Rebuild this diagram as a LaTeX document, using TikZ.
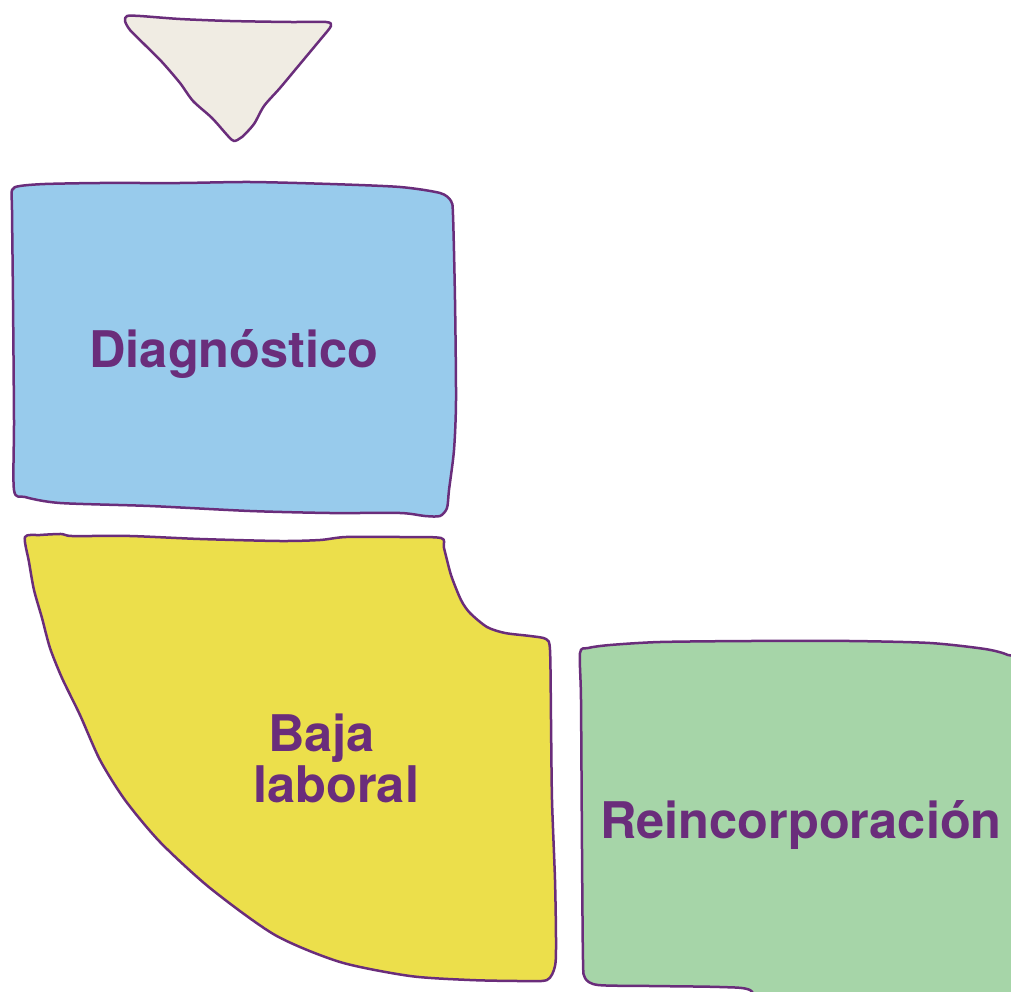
\documentclass[tikz,border=0pt]{standalone}
\usepackage{fontspec}
\setmainfont{TeX Gyre Heros}
\definecolor{ink}{HTML}{6A2D7B}
\definecolor{trifill}{HTML}{F0ECE3}
\definecolor{bluefill}{HTML}{98CBEC}
\definecolor{yellowfill}{HTML}{ECDF4B}
\definecolor{greenfill}{HTML}{A6D5A8}
\begin{document}
\begin{tikzpicture}[x=1pt,y=-1pt,
  outline/.style={draw=ink, line width=2.5pt, line join=round},
  lbl/.style={text=ink, font=\bfseries\fontsize{50.5}{52}\selectfont, inner sep=0pt}]
\useasboundingbox (0,0) rectangle (1011,992);

% triangle
\draw[outline, fill=trifill] plot[smooth cycle, tension=0.45] coordinates {
  (127,16) (140,16) (180,19) (230,21) (290,22) (326,22) (331,26) (320,40)
  (300,64) (280,88) (264,106) (254,124) (242,137) (234,141) (228,136)
  (212,118) (193,101) (180,83) (162,62) (145,45) (130,30) (125,21)};

% Diagnostico box
\draw[outline, fill=bluefill] plot[smooth cycle, tension=0.45] coordinates {
  (12,190) (20,186) (45,184) (100,183) (180,183) (250,182) (330,184)
  (400,187) (440,193) (451,201) (453,215) (455,300) (456,400) (454,450)
  (449,490) (447,508) (440,516) (425,516) (400,513) (330,513) (250,511)
  (150,506) (60,503) (25,497) (14,490) (14,420) (13,300) (12,210)};
\node[lbl, anchor=base] (diag) at (234,367) {Diagnóstico};

% Baja laboral shape
\draw[outline, fill=yellowfill] plot[smooth cycle, tension=0.45] coordinates {
  (25,537) (40,535) (62,534) (72,536) (130,536) (200,539) (280,541)
  (320,540) (346,537) (400,537) (441,538) (444,548) (451,575) (461,600)
  (470,613) (487,627) (505,633) (530,636) (546,639) (550,650) (551,720)
  (552,800) (555,880) (556,940) (555,966) (547,980) (520,981) (470,980)
  (410,976) (340,962) (275,935) (210,888) (160,842) (125,800) (100,760)
  (80,715) (62,678) (50,648) (42,618) (34,590) (29,562) };
\node[lbl, anchor=base west] (baja) at (268,751) {Baja};
\node[lbl, anchor=base west] (laboral) at (253,802) {laboral};

% Reincorporacion box
\draw[outline, fill=greenfill] plot[smooth cycle, tension=0.45] coordinates {
  (580,653) (588,648) (610,645) (660,642) (750,641) (850,641) (930,643)
  (985,649) (1008,655) (1020,665) (1024,760) (1026,900) (1030,1010)
  (900,1012) (770,1010) (750,990) (720,987) (650,986) (598,985)
  (585,978) (583,960) (582,850) (581,700)};
\node[lbl, anchor=base] (reinc) at (801,838) {Reincorporación};
\end{tikzpicture}
\end{document}
